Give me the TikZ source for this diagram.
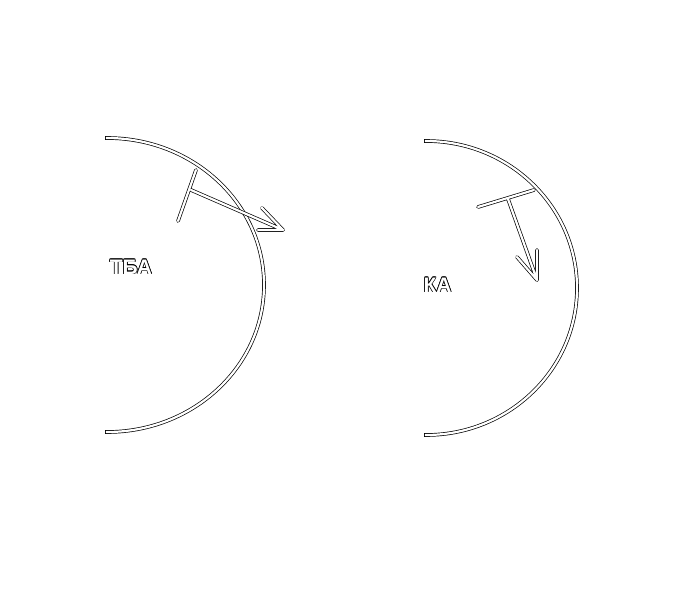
\documentclass[tikz,border=0pt]{standalone}
\usepackage{fontspec}
\setmainfont{Liberation Sans}
\begin{document}
\begin{tikzpicture}[x=1pt,y=-1pt,
  dline/.style={white, line width=2.2pt, line cap=round, line join=round,
    preaction={draw=black, line width=3.6pt, line cap=round, line join=round}},
  arcline/.style={white, line width=2.2pt, line cap=rect,
    preaction={draw=black, line width=3.6pt, line cap=rect}},
  lbl/.style={font=\fontsize{21}{23}\selectfont\bfseries, inner sep=0pt}]
\useasboundingbox (0,0) rectangle (700,599);
% left figure
\coordinate (Ltop) at (107,138);
\coordinate (Lc1) at (178,221);
\coordinate (Lc2) at (196,170);
\coordinate (Lj) at (191,190);
\coordinate (Ltip) at (283,230);
\coordinate (Lb1) at (262,208);
\coordinate (Lb2) at (258,230);
\draw[arcline] (Ltop) arc[start angle=-90, end angle=90, x radius=157, y radius=147];
\draw[dline] (Lc1) -- (Lc2) (Lj) -- (Ltip) (Lb1) -- (Ltip) -- (Lb2);
% right figure
\coordinate (Rtop) at (426,141);
\coordinate (Rc1) at (478,207);
\coordinate (Rc2) at (534,190);
\coordinate (Rj) at (508,199);
\coordinate (Rtip) at (537,280);
\coordinate (Rb1) at (517,257);
\coordinate (Rb2) at (537,250);
\draw[arcline] (Rtop) arc[start angle=-90, end angle=90, x radius=151, y radius=147];
\draw[dline] (Rc1) -- (Rc2) (Rj) -- (Rtip) (Rb1) -- (Rtip) -- (Rb2);
% outlined labels
\foreach \dx/\dy [count=\i] in {-0.7/0,0.7/0,0/-0.7,0/0.7,-0.5/-0.5,0.5/0.5,-0.5/0.5,0.5/-0.5}{
  \node[lbl, black] (tbaS\i) at (131+\dx,267+\dy) {ТБА};
  \node[lbl, black] (kaS\i) at (437.5+\dx,285+\dy) {КА};
}
\node[lbl, white] (tba) at (131,267) {ТБА};
\node[lbl, white] (ka) at (437.5,285) {КА};
\end{tikzpicture}
\end{document}
